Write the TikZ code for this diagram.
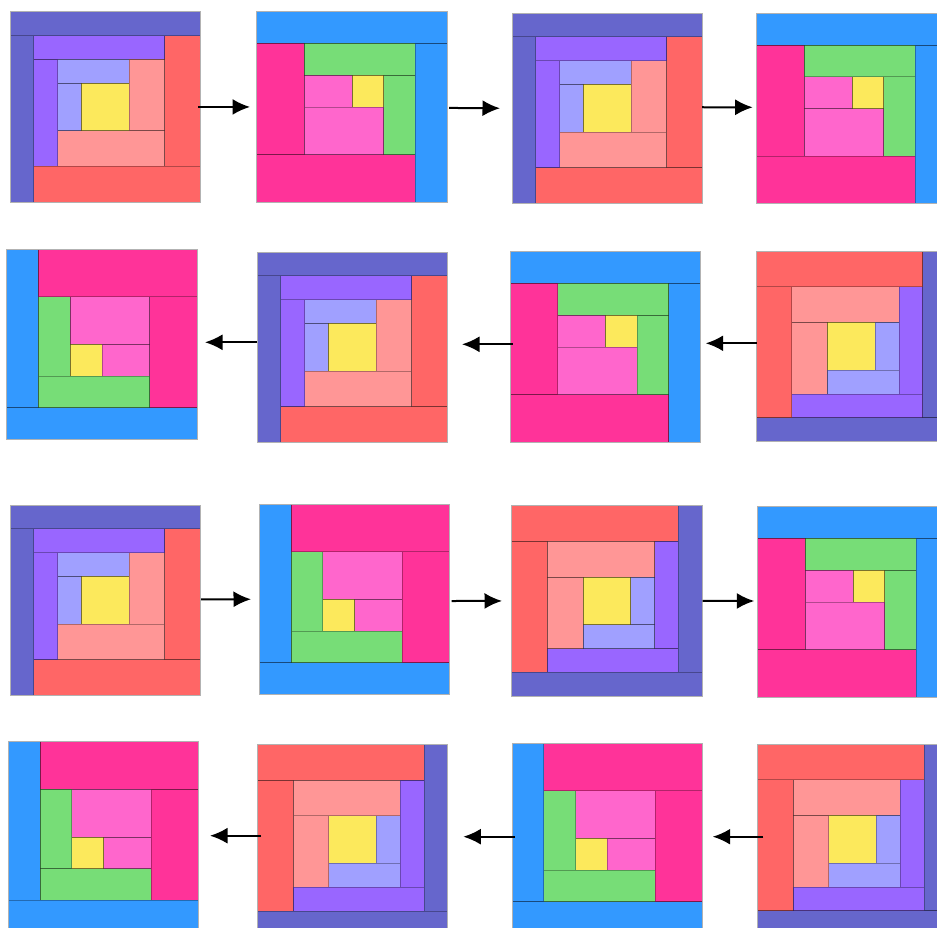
\documentclass[tikz,border=0pt]{standalone}
\usepackage{tikz}
\usetikzlibrary{arrows.meta,calc}

\definecolor{logSlate}{HTML}{6666CC}
\definecolor{logViolet}{HTML}{9966FF}
\definecolor{logLavender}{HTML}{A0A0FF}
\definecolor{logYellow}{HTML}{FCE95C}
\definecolor{logSalmon}{HTML}{FF9696}
\definecolor{logCoral}{HTML}{FF6666}
\definecolor{logBlue}{HTML}{3399FF}
\definecolor{logDeepPink}{HTML}{FF3399}
\definecolor{logPink}{HTML}{FF66CC}
\definecolor{logGreen}{HTML}{77DD77}

\tikzset{
  piece/.style      = {draw=black, draw opacity=0.3, line width=0.7pt},
  blockframe/.style = {draw=black!30, line width=0.8pt, minimum size=190.5pt,
                       inner sep=0pt, outer sep=0pt},
  flow/.style       = {-{Latex[length=17.5pt,width=16pt]}, line width=2pt},
  % clockwise log cabin, 8 x 8 units round its centre
  cabin a/.pic = {
    \begin{scope}[x=23.8125pt, y=-23.8125pt, shift={(-4,-4)}]
      \filldraw[piece,fill=logYellow]   (3,3)   rectangle (5,5);
      \filldraw[piece,fill=logLavender] (2,3)   rectangle (3,5);
      \filldraw[piece,fill=logLavender] (2,2)   rectangle (5,3);
      \filldraw[piece,fill=logSalmon]   (5,2)   rectangle (6.5,5);
      \filldraw[piece,fill=logSalmon]   (2,5)   rectangle (6.5,6.5);
      \filldraw[piece,fill=logViolet]   (1,2)   rectangle (2,6.5);
      \filldraw[piece,fill=logViolet]   (1,1)   rectangle (6.5,2);
      \filldraw[piece,fill=logCoral]    (6.5,1) rectangle (8,6.5);
      \filldraw[piece,fill=logCoral]    (1,6.5) rectangle (8,8);
      \filldraw[piece,fill=logSlate]    (0,1)   rectangle (1,8);
      \filldraw[piece,fill=logSlate]    (0,0)   rectangle (8,1);
    \end{scope}
    \node[blockframe] (-box) at (0,0) {};
  },
  % counterclockwise log cabin, 6 x 6 units round its centre
  cabin b/.pic = {
    \begin{scope}[x=31.75pt, y=-31.75pt, shift={(-3,-3)}]
      \filldraw[piece,fill=logYellow]   (3,2)   rectangle (4,3);
      \filldraw[piece,fill=logPink]     (1.5,2) rectangle (3,3);
      \filldraw[piece,fill=logPink]     (1.5,3) rectangle (4,4.5);
      \filldraw[piece,fill=logGreen]    (4,2)   rectangle (5,4.5);
      \filldraw[piece,fill=logGreen]    (1.5,1) rectangle (5,2);
      \filldraw[piece,fill=logDeepPink] (0,1)   rectangle (1.5,4.5);
      \filldraw[piece,fill=logDeepPink] (0,4.5) rectangle (5,6);
      \filldraw[piece,fill=logBlue]     (5,1)   rectangle (6,6);
      \filldraw[piece,fill=logBlue]     (0,0)   rectangle (6,1);
    \end{scope}
    \node[blockframe] (-box) at (0,0) {};
  },
}

\begin{document}
\begin{tikzpicture}[x=1pt, y=-1pt]

  \useasboundingbox (0,0) rectangle (937,928);
  \fill[white] (0,0) rectangle (937,928);
  \clip (0,0) rectangle (937,928);

  % =======================================================================
  %  Blocks, four rows of four
  % =======================================================================
  \foreach \n/\cx/\cy/\turn in {1/105.25/106.95/0, 3/607.25/108.25/0,
                                6/352.25/347.25/0, 8/851.25/346.25/180,
                                9/105.25/600.25/0, 11/606.95/600.95/180,
                                14/352.55/839.55/180, 16/852.55/839.25/180}
    { \pic[rotate=\turn] (b\n) at (\cx,\cy) {cabin a}; }
  \foreach \n/\cx/\cy/\turn in {2/351.95/106.95/0, 4/851.95/108.55/0,
                                5/101.95/344.25/180, 7/605.25/346.95/0,
                                10/354.55/599.25/180, 12/852.95/601.95/0,
                                13/103.55/836.95/180, 15/607.25/838.25/180}
    { \pic[rotate=\turn] (b\n) at (\cx,\cy) {cabin b}; }

  % =======================================================================
  %  Arrows
  % =======================================================================
  % row 1, left to right
  \draw[flow] ($(b1-box.east)+(-2.5,0)$)  -- ($(b2-box.west)+(-6.7,0)$);
  \draw[flow] ($(b2-box.east)+(1.8,1)$)   -- ($(b3-box.west)+(-12,0)$);
  \draw[flow] ($(b3-box.east)+(-0.5,-1)$) -- ($(b4-box.west)+(-4,-1.25)$);

  % row 2, right to left
  \draw[flow] ($(b6-box.west)+(0,-4.95)$)   -- ($(b5-box.east)+(7.8,-1.95)$);
  \draw[flow] ($(b7-box.west)+(2.7,-2.65)$) -- ($(b6-box.east)+(14.5,-2.95)$);
  \draw[flow] ($(b8-box.west)+(0.7,-2.95)$) -- ($(b7-box.east)+(5.2,-3.65)$);

  % row 3, left to right
  \draw[flow] ($(b9-box.east)+(0.5,-0.95)$) -- ($(b10-box.west)+(-8.3,0)$);
  \draw[flow] ($(b10-box.east)+(1.9,1.75)$) -- ($(b11-box.west)+(-9.7,0)$);
  \draw[flow] ($(b11-box.east)+(0.5,0)$)    -- ($(b12-box.west)+(-3.4,-0.95)$);

  % row 4, right to left
  \draw[flow] ($(b14-box.west)+(3.7,-3.85)$) -- ($(b13-box.east)+(11.2,-1.25)$);
  \draw[flow] ($(b15-box.west)+(3,-1.55)$)   -- ($(b14-box.east)+(15.5,-2.85)$);
  \draw[flow] ($(b16-box.west)+(6,-2.55)$)   -- ($(b15-box.east)+(10.2,-1.55)$);
\end{tikzpicture}
\end{document}
